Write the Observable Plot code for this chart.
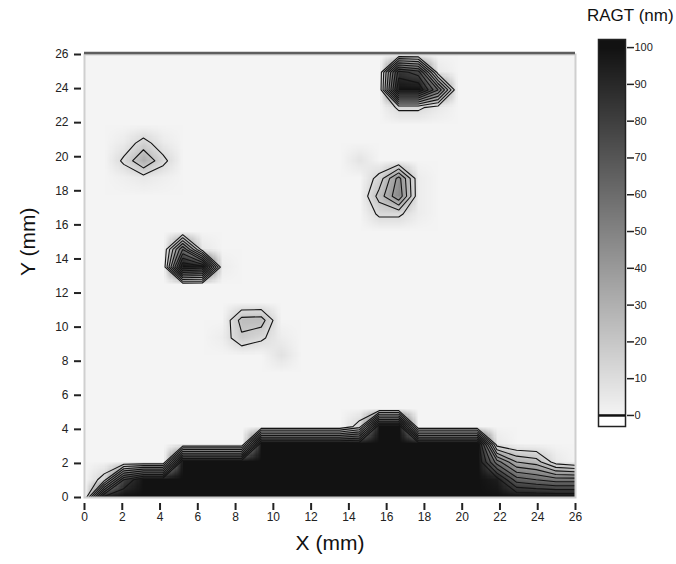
<!DOCTYPE html>
<html>
<head>
<meta charset="utf-8">
<script src="https://cdn.jsdelivr.net/npm/d3@7"></script>
<script src="https://cdn.jsdelivr.net/npm/@observablehq/plot@0.6"></script>
<style>
  html, body { margin: 0; padding: 0; background: #fff; }
  #wrap { position: relative; width: 676px; height: 564px; font-family: "Liberation Sans", Arial, sans-serif; }
  #wrap > svg, #wrap > div { position: absolute; }
  #ctitle { left: 587px; top: 7px; font-size: 17px; line-height: 1; color: #111; white-space: nowrap; }
</style>
</head>
<body>
<div id="wrap"></div>
<script>
// ---- data (grid of 26 x 26 samples, spacing 26/25 mm) ----
const gridCols = 26;
const gridRows = 26;
const xTitle = "X (mm)";
const yTitle = "Y (mm)";
const colorTitle = "RAGT (nm)";
const xTicks = [0, 2, 4, 6, 8, 10, 12, 14, 16, 18, 20, 22, 24, 26];
const yTicks = [0, 2, 4, 6, 8, 10, 12, 14, 16, 18, 20, 22, 24, 26];
const colorTicks = [0, 10, 20, 30, 40, 50, 60, 70, 80, 90, 100];
const levels = [10, 20, 30, 40, 50, 60, 70, 80, 90];

// bottom deposit: per grid column, values from row 0 upward (rest is 0)
const bottomColumns = [
  [0],
  [95, 15],
  [100, 80],
  [100, 100],
  [100, 100],
  [100, 100, 100],
  [100, 100, 100],
  [100, 100, 100],
  [100, 100, 100],
  [100, 100, 100, 100],
  [100, 100, 100, 100],
  [100, 100, 100, 100],
  [100, 100, 100, 100],
  [100, 100, 100, 100],
  [100, 100, 100, 100, 15],
  [100, 100, 100, 100, 100],
  [100, 100, 100, 100, 100],
  [100, 100, 100, 100],
  [100, 100, 100, 100],
  [100, 100, 100, 100],
  [100, 100, 100, 100],
  [100, 95, 55, 5],
  [100, 65, 30],
  [100, 60, 25],
  [100, 55, 5],
  [100, 55]
];

// isolated spots: [column, row, value]
const spotA = [[3,19,30],[2,19,12],[4,19,13],[3,20,14],[3,18,5],[2,20,4],[4,20,4],[2,18,2],[4,18,2]];
const spotB = [[5,13,100],[6,13,95],[7,13,3],[5,14,60],[6,14,5]];
const spotC = [[8,10,24],[9,10,25],[8,9,18],[9,9,12],[7,9,3],[10,9,3],[10,8,8]];
const spotD = [[16,17,48],[16,18,44],[15,17,24],[15,16,12],[16,16,12],[15,18,14],[17,17,3],[17,18,3],[17,16,3],[14,19,7]];
const spotE = [[16,22,12],[17,22,12],[18,22,5],[16,23,100],[17,23,100],[18,23,60],[16,24,85],[17,24,75],[18,24,5]];

// ---- build the grid (row-major from bottom-left) ----
const values = new Array(gridCols * gridRows).fill(0);
bottomColumns.forEach((col, i) => col.forEach((v, j) => { values[j * gridCols + i] = v; }));
[spotA, spotB, spotC, spotD, spotE].forEach(s => s.forEach(([i, j, v]) => { values[j * gridCols + i] = v; }));

const step = 26 / (gridCols - 1);
const gx1 = -step / 2, gx2 = 26 + step / 2;
const gy1 = -step / 2, gy2 = 26 + step / 2;

const colorOpts = {type: "linear", domain: [0, 100], range: ["#f4f4f4", "#121212"], clamp: true};
const font = "'Liberation Sans', Arial, sans-serif";

const main = Plot.plot({
  width: 676, height: 564,
  marginLeft: 84, marginRight: 101, marginTop: 54, marginBottom: 67,
  style: {fontFamily: font, fontSize: "12px", color: "#222", background: "transparent"},
  x: {domain: [0, 26], label: null},
  y: {domain: [0, 26], label: null},
  color: colorOpts,
  marks: [
    Plot.raster(values, {width: gridCols, height: gridRows, x1: gx1, x2: gx2, y1: gy1, y2: gy2, fill: d => d, clip: true}),
    Plot.contour(values, {width: gridCols, height: gridRows, x1: gx1, x2: gx2, y1: gy1, y2: gy2,
      value: d => d, thresholds: levels, fill: "none", stroke: "#141414", strokeWidth: 1.1, clip: true}),
    Plot.frame({stroke: "#cfcfcf", strokeWidth: 2}),
    Plot.ruleY([26], {stroke: "#5e5e5e", strokeWidth: 2.5, dy: -1.5}),
    Plot.axisX({ticks: xTicks, tickSize: 7, dy: 6, tickPadding: 2, strokeWidth: 2, label: null, tickFormat: d => String(d)}),
    Plot.axisY({ticks: yTicks, tickSize: 7, dx: -3, tickPadding: 6, strokeWidth: 2, label: null, tickFormat: d => String(d)}),
    Plot.text([xTitle], {text: d => d, frameAnchor: "bottom", dy: 52, fontSize: 21, fill: "#111"}),
    Plot.text([yTitle], {text: d => d, frameAnchor: "left", dx: -56, rotate: -90, fontSize: 21, fill: "#111"})
  ]
});

const bar = Plot.plot({
  width: 86, height: 440,
  marginLeft: 8, marginRight: 51, marginTop: 39, marginBottom: 14,
  style: {fontFamily: font, fontSize: "11px", color: "#222", background: "transparent"},
  x: {domain: [0, 1], axis: null},
  y: {domain: [-3, 102.2], label: null},
  color: colorOpts,
  marks: [
    Plot.raster({fill: (x, y) => y, x1: 0, x2: 1, y1: 0, y2: 102.2}),
    Plot.rect([0], {x1: 0, x2: 1, y1: -3, y2: 0, fill: "white"}),
    Plot.ruleY([0], {stroke: "#111", strokeWidth: 2.5}),
    Plot.frame({stroke: "#222", strokeWidth: 1.5}),
    Plot.axisY({anchor: "right", ticks: colorTicks, tickSize: 7, tickPadding: 1, dx: 1, strokeWidth: 1.5, label: null, tickFormat: d => String(d)})
  ]
});

const wrap = document.getElementById("wrap");
main.style.left = "0px"; main.style.top = "0px";
bar.style.left = "590px"; bar.style.top = "0px";
wrap.appendChild(main);
wrap.appendChild(bar);
const t = document.createElement("div");
t.id = "ctitle";
t.textContent = colorTitle;
wrap.appendChild(t);
</script>
</body>
</html>
